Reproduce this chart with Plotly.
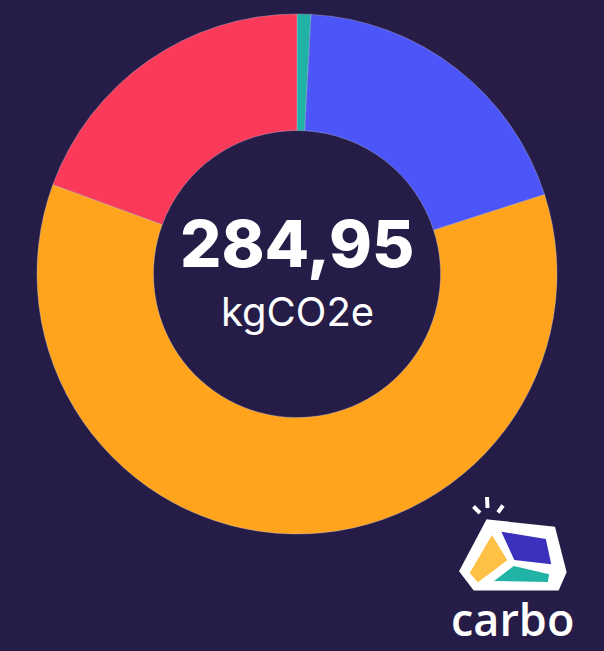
import plotly.graph_objects as go

# Data
categories = ["Category A", "Category B", "Category C", "Category D"]
values = [2.45, 54.70, 172.50, 55.30]
colors = ["#20b2a6", "#4b55f8", "#ffa41c", "#fb3a5a"]
total_label = "284,95"
unit_label = "kgCO2e"
brand_label = "carbo"

W, H = 604, 651
BG = "#251d47"

def px(x):
    return x / W

def py(y):
    return 1 - y / H

fig = go.Figure()
fig.add_trace(go.Pie(
    labels=categories,
    values=values,
    marker=dict(colors=colors, line=dict(color="rgba(200,200,230,0.35)", width=1)),
    hole=0.552,
    sort=False,
    direction="clockwise",
    rotation=0,
    textinfo="none",
    hoverinfo="label+value+percent",
    showlegend=False,
    domain=dict(x=[px(37), px(557)], y=[py(534), py(14)]),
))

annotations = [
    dict(text=total_label, x=px(297), y=py(243), xref="paper", yref="paper",
         showarrow=False, xanchor="center", yanchor="middle",
         font=dict(family="Inter", size=65, color="#ffffff", weight=800)),
    dict(text=unit_label, x=px(297), y=py(312), xref="paper", yref="paper",
         showarrow=False, xanchor="center", yanchor="middle",
         font=dict(family="Inter", size=40, color="#ffffff", weight=400)),
    dict(text=brand_label, x=px(512), y=0.002, xref="paper", yref="paper",
         showarrow=False, xanchor="center", yanchor="bottom", borderpad=0,
         font=dict(family="Open Sans", size=45, color="#ffffff", weight=600)),
]

def path(points):
    s = "M " + " L ".join(f"{px(x):.5f},{py(y):.5f}" for x, y in points) + " Z"
    return s

shapes = []
# subtle purple tint at the top right of the background
shapes.append(dict(type="rect", xref="paper", yref="paper", x0=px(400), x1=1, y0=py(120), y1=1,
                   fillcolor="rgba(60,30,70,0.18)", line=dict(width=0), layer="below"))
# logo outer white body
outer = [(488, 522), (553, 529), (564, 572), (557, 588), (475, 588), (462, 571)]
shapes.append(dict(type="path", xref="paper", yref="paper", path=path(outer),
                   fillcolor="#ffffff", line=dict(color="#ffffff", width=5)))
yellow = [(492, 537), (506, 560), (478, 581), (471, 573)]
shapes.append(dict(type="path", xref="paper", yref="paper", path=path(yellow),
                   fillcolor="#ffc145", line=dict(color="#ffc145", width=2)))
blue = [(503, 533), (545, 540), (550, 563), (515, 559)]
shapes.append(dict(type="path", xref="paper", yref="paper", path=path(blue),
                   fillcolor="#3a31bd", line=dict(color="#3a31bd", width=2)))
teal = [(497, 580), (514, 567), (548, 575), (547, 581)]
shapes.append(dict(type="path", xref="paper", yref="paper", path=path(teal),
                   fillcolor="#21b3a5", line=dict(color="#21b3a5", width=2)))
# rays
for (x0, y0, x1, y1) in [(473.5, 506.5, 480, 513), (487, 497, 487.5, 508), (503, 505.5, 498, 512.5)]:
    shapes.append(dict(type="line", xref="paper", yref="paper",
                       x0=px(x0), y0=py(y0), x1=px(x1), y1=py(y1),
                       line=dict(color="#ffffff", width=4)))

fig.update_layout(
    width=W, height=H,
    margin=dict(l=0, r=0, t=0, b=0),
    paper_bgcolor=BG,
    plot_bgcolor=BG,
    annotations=annotations,
    shapes=shapes,
)

fig.write_html("out.html")
